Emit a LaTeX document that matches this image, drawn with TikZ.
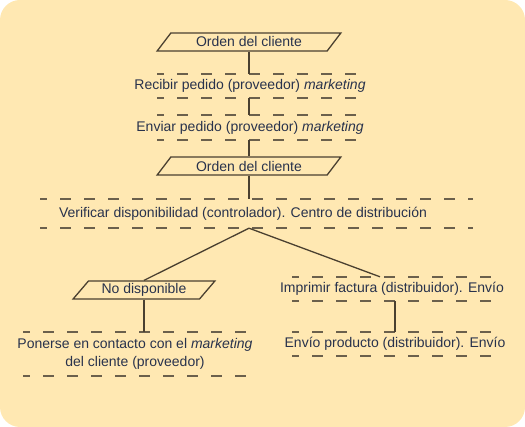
\documentclass[tikz,border=0pt]{standalone}
\usepackage{fontspec}
\setmainfont{Liberation Sans}
\usetikzlibrary{shapes.geometric}

\definecolor{bgfill}{HTML}{FFE8B2}
\definecolor{linecol}{HTML}{4A4030}
\definecolor{dashcol}{HTML}{6B604C}
\definecolor{textcol}{HTML}{28324C}

\begin{document}
\begin{tikzpicture}[x=1pt,y=-1pt,font=\fontsize{14}{18}\selectfont]
        % Styles for the flowchart parts
        \tikzset{
            io_box/.style={draw=linecol, line width=1.3pt, trapezium, trapezium left angle=48,
                trapezium right angle=132, trapezium stretches=true, minimum width=184pt,
                minimum height=18pt, inner sep=0pt, text=textcol},
            task_box/.style={inner sep=0pt, text=textcol, align=center},
            dash_line/.style={draw=dashcol, line width=1.4pt, dash pattern=on 11pt off 13pt, dash phase=4pt},
            link/.style={draw=linecol, line width=1.3pt}
        }

        % Background
        \useasboundingbox (0,0) rectangle (525,427);
        \fill[bgfill, rounded corners=20pt] (0,0) rectangle (525,427);

        % Main column
        \node[io_box] (orden1) at (249,42) {Orden del cliente};
        \node[task_box, minimum height=24pt] (recibir) at (250,86) {Recibir pedido (proveedor) \textit{marketing}};
        \node[task_box, minimum height=25pt] (enviar) at (250,127.5) {Enviar pedido (proveedor) \textit{marketing}};
        \node[io_box] (orden2) at (249,166) {Orden del cliente};
        \node[task_box, minimum height=29pt] (verificar) at (243,213.5) {Verificar disponibilidad (controlador). Centro de distribución};

        % Left branch
        \node[io_box, minimum width=142pt] (nodisp) at (144,290) {No disponible};
        \node[task_box, minimum height=44pt] (contacto) at (135,354) {Ponerse en contacto con el \textit{marketing}\\del cliente (proveedor)};

        % Right branch
        \node[task_box, minimum height=24pt] (factura) at (392,289) {Imprimir factura (distribuidor). Envío};
        \node[task_box, minimum height=24pt] (producto) at (395,344) {Envío producto (distribuidor). Envío};

        % Dashed top and bottom edges of the task boxes
        \foreach \l/\r/\t/\b in {157/357/74/98, 157/357/115/140, 40/473/199/228,
                                 23/248/332/376, 292/498/277/301, 292/498/332/356} {
            \draw[dash_line] (\l,\t) -- (\r,\t);
            \draw[dash_line] (\l,\b) -- (\r,\b);
        }

        % Connectors
        \draw[link] (orden1.south) -- (orden1.south |- recibir.north);
        \draw[link] (orden1.south |- recibir.south) -- (orden1.south |- enviar.north);
        \draw[link] (orden2.north |- enviar.south) -- (orden2.north);
        \draw[link] (orden2.south) -- (orden2.south |- verificar.north);
        \draw[link] (orden2.south |- verificar.south) -- (nodisp.north);
        \draw[link] (orden2.south |- verificar.south) -- ([xshift=-12pt]factura.north);
        \draw[link] (nodisp.south) -- (nodisp.south |- contacto.north);
        \draw[link] (producto.north |- factura.south) -- (producto.north);
\end{tikzpicture}
\end{document}
